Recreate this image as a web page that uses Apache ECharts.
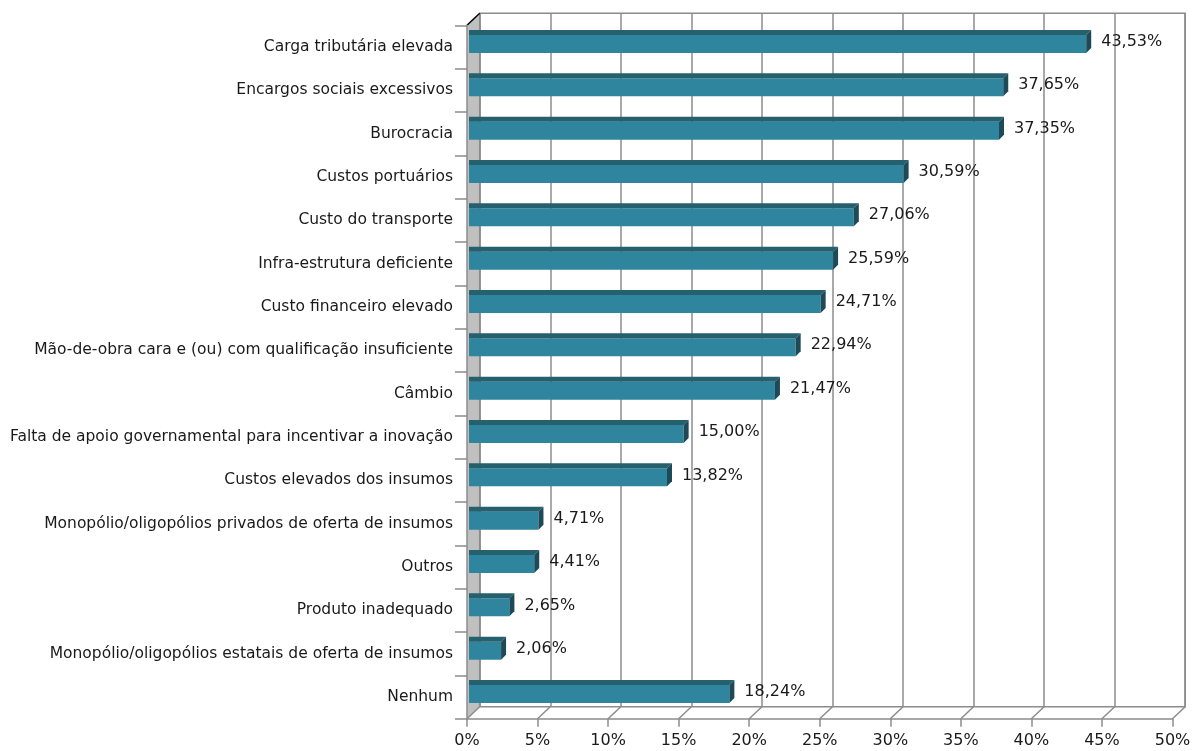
<!DOCTYPE html>
<html>
<head>
<meta charset="utf-8">
<script src="https://cdn.jsdelivr.net/npm/echarts@6/dist/echarts.min.js"></script>
<style>
html,body{margin:0;padding:0;background:#fff;}
#chart{width:1192px;height:751px;}
</style>
</head>
<body>
<div id="chart"></div>
<script>
const categories = [
  "Carga tributária elevada",
  "Encargos sociais excessivos",
  "Burocracia",
  "Custos portuários",
  "Custo do transporte",
  "Infra-estrutura deficiente",
  "Custo financeiro elevado",
  "Mão-de-obra cara e (ou) com qualificação insuficiente",
  "Câmbio",
  "Falta de apoio governamental para incentivar a inovação",
  "Custos elevados dos insumos",
  "Monopólio/oligopólios privados de oferta de insumos",
  "Outros",
  "Produto inadequado",
  "Monopólio/oligopólios estatais de oferta de insumos",
  "Nenhum"
];
const values = [43.53, 37.65, 37.35, 30.59, 27.06, 25.59, 24.71, 22.94, 21.47, 15.00, 13.82, 4.71, 4.41, 2.65, 2.06, 18.24];
const xTicks = [0, 5, 10, 15, 20, 25, 30, 35, 40, 45, 50];

const FONT = "DejaVu Sans";
const FS = 15.5;
const GRAY = "#8c8c8c";
const DX = 12.7, DY = 12;      // depth offset of the back wall
const BD = 5;                  // bar depth
const FRONT = "#2f859d", TOP = "#25606f", SIDE = "#1e4a57";

const chart = echarts.init(document.getElementById('chart'), null, {renderer: 'canvas'});

function fmt(v) { return v.toFixed(2).replace('.', ',') + '%'; }

const option = {
  animation: false,
  backgroundColor: '#fff',
  textStyle: {fontFamily: FONT},
  grid: [
    {left: 467, right: 19.5, top: 25.3, bottom: 32.3, outerBoundsMode: 'none', containLabel: false},
    {left: 467 + DX, right: 19.5 - DX, top: 25.3 - DY, bottom: 32.3 + DY, outerBoundsMode: 'none', containLabel: false,
     show: true, borderColor: GRAY, borderWidth: 1.5, backgroundColor: 'transparent'}
  ],
  xAxis: [
    {type: 'value', gridIndex: 0, min: 0, max: 50, interval: 5, z: 10,
     axisLine: {show: true, lineStyle: {color: GRAY, width: 1.5}},
     axisTick: {show: true, length: 8, lineStyle: {color: GRAY, width: 1.5}},
     axisLabel: {show: true, formatter: '{value}%', fontFamily: FONT, fontSize: 16, color: '#1a1a1a', margin: 14},
     splitLine: {show: false}},
    {type: 'value', gridIndex: 1, min: 0, max: 50, interval: 5,
     axisLine: {show: false}, axisTick: {show: false}, axisLabel: {show: false},
     splitLine: {show: true, lineStyle: {color: GRAY, width: 1.5}}}
  ],
  yAxis: [
    {type: 'category', gridIndex: 0, data: categories, inverse: true, z: 10,
     axisLine: {show: true, lineStyle: {color: GRAY, width: 1.5}},
     axisTick: {show: true, length: 12, lineStyle: {color: GRAY, width: 1.5}},
     axisLabel: {show: true, interval: 0, fontFamily: FONT, fontSize: FS, color: '#1a1a1a', margin: 14}},
    {type: 'value', gridIndex: 1, min: 0, max: 1, show: false, splitLine: {show: false}}
  ],
  series: [
    {
      type: 'custom', name: 'wall', xAxisIndex: 0, yAxisIndex: 0, z: 1, silent: true,
      data: [[0, 0]],
      renderItem: function (params, api) {
        const cs = params.coordSys;
        const x0 = api.coord([0, 0])[0];
        const top = cs.y, bot = cs.y + cs.height;
        return {
          type: 'group',
          children: [
            {type: 'polygon', shape: {points: [[x0, top], [x0 + DX, top - DY], [x0 + DX, bot - DY], [x0, bot]]},
             style: {fill: '#c0c0c0', stroke: null}},
            {type: 'line', shape: {x1: x0 + DX, y1: top - DY, x2: x0 + DX, y2: bot - DY},
             style: {stroke: GRAY, lineWidth: 1.5}},
            {type: 'line', shape: {x1: x0, y1: top, x2: x0 + DX, y2: top - DY},
             style: {stroke: '#000', lineWidth: 1.5}}
          ]
        };
      }
    },
    {
      type: 'custom', name: 'floor', xAxisIndex: 0, yAxisIndex: 0, z: 1, silent: true,
      data: xTicks.map(v => [v, 0]),
      renderItem: function (params, api) {
        const cs = params.coordSys;
        const x = api.coord([api.value(0), 0])[0];
        const bot = cs.y + cs.height;
        return {type: 'line', shape: {x1: x, y1: bot, x2: x + DX, y2: bot - DY},
                style: {stroke: GRAY, lineWidth: 1.5}};
      }
    },
    {
      type: 'custom', name: 'bars', xAxisIndex: 0, yAxisIndex: 0, z: 3, silent: true,
      data: values.map((v, i) => [v, i]),
      renderItem: function (params, api) {
        const cs = params.coordSys;
        const v = api.value(0);
        const p = api.coord([v, api.value(1)]);
        const cy = p[1];
        const x0 = cs.x + 2;
        const xR = p[0] + 5;
        const yT = cy - 12, yB = cy + 6;
        return {
          type: 'group',
          children: [
            {type: 'rect', shape: {x: x0, y: yT, width: xR - x0, height: yB - yT}, style: {fill: FRONT}},
            {type: 'polygon', shape: {points: [[x0, yT], [xR, yT], [xR + BD, yT - BD], [x0, yT - BD]]}, style: {fill: TOP}},
            {type: 'polygon', shape: {points: [[xR, yT], [xR + BD, yT - BD], [xR + BD, yB - BD], [xR, yB]]}, style: {fill: SIDE}},
            {type: 'text', style: {text: fmt(v), x: xR + BD + 10, y: cy - 5, align: 'left', verticalAlign: 'middle',
              font: '16px "' + FONT + '"', fill: '#1a1a1a'}}
          ]
        };
      }
    }
  ]
};
chart.setOption(option);
</script>
</body>
</html>
